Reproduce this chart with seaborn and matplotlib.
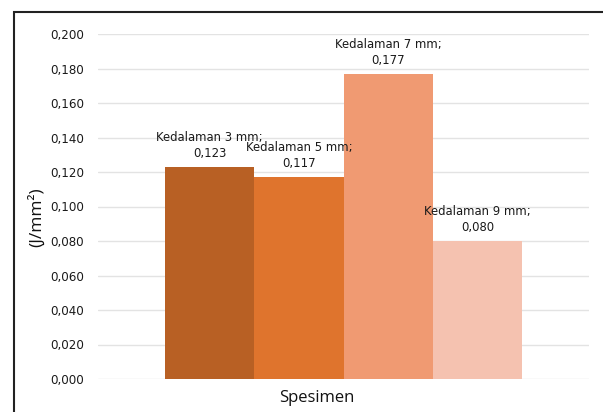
import pandas as pd
import matplotlib.pyplot as plt
import seaborn as sns
from matplotlib.patches import Rectangle
from matplotlib.transforms import ScaledTranslation

# Data
category = ['Spesimen']
series = ['Kedalaman 3 mm', 'Kedalaman 5 mm', 'Kedalaman 7 mm', 'Kedalaman 9 mm']
values = [0.123, 0.117, 0.177, 0.080]
colors = ['#B86024', '#DF742D', '#F09A72', '#F5C2B0']
yticks = [0.0, 0.02, 0.04, 0.06, 0.08, 0.10, 0.12, 0.14, 0.16, 0.18, 0.20]

df = pd.DataFrame({
    'kategori': category * len(series),
    'seri': series,
    'nilai': values,
})

sns.set_style('white')
plt.rcParams['font.family'] = ['DejaVu Sans']

fig = plt.figure(figsize=(6.03, 4.12), dpi=100)
ax = fig.add_axes([98 / 603, 33 / 412, (589 - 98) / 603, (379 - 34) / 412])

sns.barplot(data=df, x='kategori', y='nilai', hue='seri', palette=colors,
            width=0.727, saturation=1, legend=False, linewidth=0,
            ax=ax, zorder=2)

# Data labels: series name and value with a decimal comma
# (labels 1 and 2 touch each other in the original too)
for container, name, val in zip(ax.containers, series, values):
    txt = f'{name};\n{val:.3f}'.replace('.', ',')
    ax.bar_label(container, labels=[txt], padding=5, fontsize=8.4,
                 color='#1a1a1a', linespacing=1.3)

ax.set_ylim(0, 0.2)
ax.set_xlim(-0.5, 0.5)
ax.set_yticks(yticks)
ax.set_yticklabels([f'{t:.3f}'.replace('.', ',') for t in yticks],
                   fontsize=8.6, color='#1a1a1a')
ax.tick_params(axis='y', length=0, pad=10)
ax.tick_params(axis='x', length=0, pad=8)
for lab in ax.get_xticklabels():
    lab.set_fontsize(12)
    lab.set_family('Open Sans')
    lab.set_color('#111111')
    lab.set_transform(lab.get_transform() +
                      ScaledTranslation(-0.27, 0, fig.dpi_scale_trans))

ax.grid(axis='y', color='#E3E3E3', linewidth=1, zorder=0)
ax.set_axisbelow(True)
for s in ax.spines.values():
    s.set_visible(False)

ax.set_xlabel('')
ax.set_ylabel('(J/mm²)', fontsize=12.5, family='Open Sans', color='#111111')
ax.yaxis.set_label_coords(-0.108, 0.47)

# Outer frame around the chart area
fig.patches.append(Rectangle((14 / 603, -0.05), 1.0, 0.05 + 400 / 412,
                             transform=fig.transFigure, fill=False,
                             edgecolor='#222222', linewidth=1.5))

plt.savefig('out.png', dpi=100)
